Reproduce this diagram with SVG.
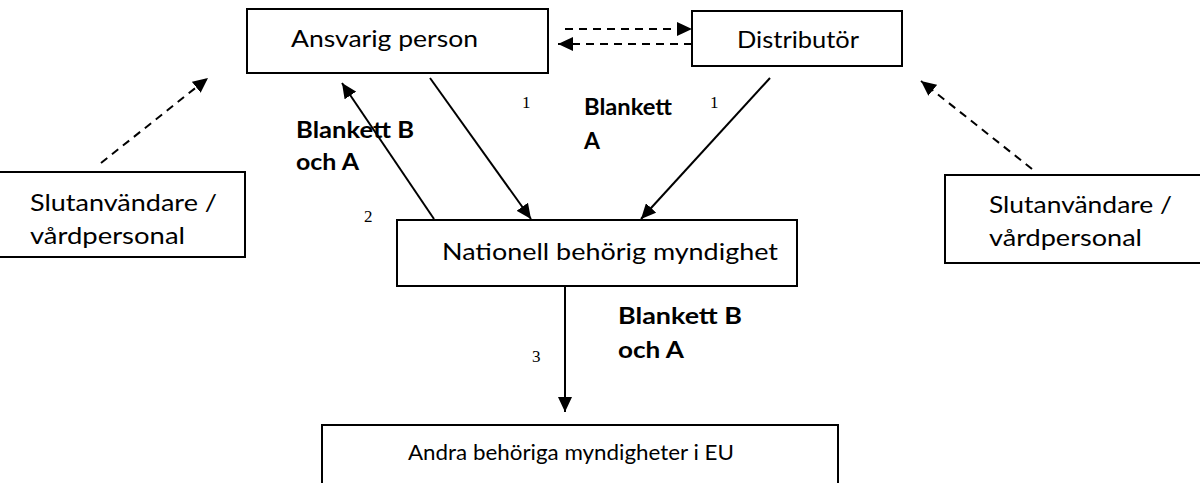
<svg xmlns="http://www.w3.org/2000/svg" width="1200" height="483" viewBox="0 0 1200 483">
<style>
.box{fill:#fff;stroke:#000;stroke-width:2}
.t{font-family:Lato,"Open Sans",sans-serif;font-size:24px;fill:#000}
.s{font-size:22px}
.b{font-family:Lato,"Open Sans",sans-serif;font-size:23px;font-weight:bold;fill:#000}
.n{font-family:"Liberation Serif",serif;font-size:17px;fill:#000}
.solid{stroke:#000;stroke-width:2;fill:none;marker-end:url(#ah)}
.dash{stroke:#000;stroke-width:2;fill:none;stroke-dasharray:8 6;marker-end:url(#ah)}
</style>
<defs>
<marker id="ah" markerUnits="userSpaceOnUse" markerWidth="16" markerHeight="14" refX="15" refY="7" orient="auto">
<path d="M0,0 L15,7 L0,14 z" fill="#000"/>
</marker>
</defs>
<rect width="1200" height="483" fill="#fff"/>
<g id="connectors">
<line class="dash" x1="565" y1="29" x2="692" y2="29"/>
<line class="dash" x1="692" y1="44" x2="558" y2="44"/>
<line class="dash" x1="101" y1="163" x2="208" y2="78"/>
<line class="dash" x1="1032" y1="169" x2="921" y2="81"/>
<line class="solid" x1="430" y1="78" x2="531" y2="219"/>
<line class="solid" x1="434" y1="219" x2="342" y2="83"/>
<line class="solid" x1="770" y1="78" x2="641" y2="219"/>
<line class="solid" x1="565" y1="287" x2="565" y2="412"/>
</g>
<g id="ansvarig">
<rect class="box" x="247" y="9" width="301" height="64"/>
<text class="t" x="291" y="47" textLength="187" lengthAdjust="spacingAndGlyphs">Ansvarig person</text>
</g>
<g id="distributor">
<rect class="box" x="692" y="11" width="210" height="55"/>
<text class="t" x="737" y="48" textLength="122" lengthAdjust="spacingAndGlyphs">Distributör</text>
</g>
<g id="slut-left">
<path class="box" d="M-2,172 H245 V257 H-2"/>
<text class="t" x="30" y="211" textLength="187" lengthAdjust="spacingAndGlyphs">Slutanvändare /</text>
<text class="t" x="30" y="244" textLength="155" lengthAdjust="spacingAndGlyphs">vårdpersonal</text>
</g>
<g id="slut-right">
<rect class="box" x="945" y="175" width="265" height="88"/>
<text class="t" x="989" y="213" textLength="183" lengthAdjust="spacingAndGlyphs">Slutanvändare /</text>
<text class="t" x="989" y="246" textLength="153" lengthAdjust="spacingAndGlyphs">vårdpersonal</text>
</g>
<g id="nationell">
<rect class="box" x="397" y="220" width="400" height="66"/>
<text class="t" x="442" y="260" textLength="336" lengthAdjust="spacingAndGlyphs">Nationell behörig myndighet</text>
</g>
<g id="andra">
<rect class="box" x="322" y="425" width="516" height="80"/>
<text class="t s" x="408" y="460" textLength="326" lengthAdjust="spacingAndGlyphs">Andra behöriga myndigheter i EU</text>
</g>
<g id="labels">
<text class="b" x="296" y="138" textLength="118" lengthAdjust="spacingAndGlyphs">Blankett B</text>
<text class="b" x="296" y="170" textLength="63" lengthAdjust="spacingAndGlyphs">och A</text>
<text class="b" x="584" y="115" textLength="88" lengthAdjust="spacingAndGlyphs">Blankett</text>
<text class="b" x="584" y="149">A</text>
<text class="b" x="618" y="324" textLength="124" lengthAdjust="spacingAndGlyphs">Blankett B</text>
<text class="b" x="618" y="358" textLength="66" lengthAdjust="spacingAndGlyphs">och A</text>
<text class="n" x="522" y="108">1</text>
<text class="n" x="710" y="108">1</text>
<text class="n" x="364" y="222">2</text>
<text class="n" x="532" y="362">3</text>
</g>
</svg>
